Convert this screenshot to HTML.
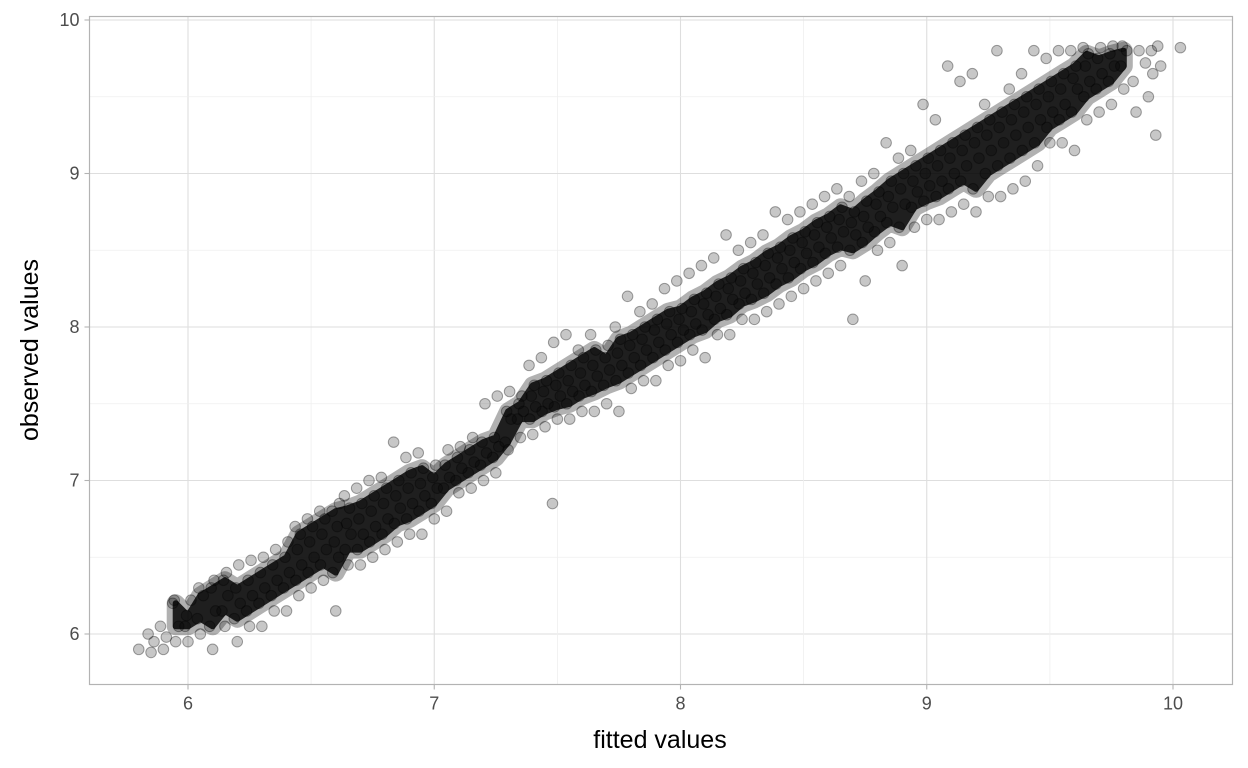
<!DOCTYPE html>
<html><head><meta charset="utf-8"><style>
body{margin:0;background:#fff;}
svg{display:block;font-family:"Liberation Sans",sans-serif;}
</style></head><body>
<svg id="chart" width="1248" height="768">
<g id="grid"></g>
<g id="pts"></g>
<rect x="89.5" y="16.5" width="1143" height="668" fill="none" stroke="#b3b3b3" stroke-width="1.2"/>
<g id="axes"></g>
<text x="660" y="748" text-anchor="middle" font-size="25" fill="#000">fitted values</text>
<text transform="translate(38,350) rotate(-90)" text-anchor="middle" font-size="25" fill="#000">observed values</text>
</svg>
<script>
const xTicks=[6,7,8,9,10];
const yTicks=[6,7,8,9,10];
const fitted=[5.80,5.85,5.90,5.95,6.00,6.05,6.10,6.15,6.20,6.25,6.30,6.35,6.40,6.45,6.50,6.55,6.60,6.65,6.70,6.75,6.80,6.85,6.90,6.95,7.00,7.05,7.10,7.15,7.20,7.25,7.30,7.35,7.40,7.45,7.48,7.50,7.55,7.60,7.65,7.70,7.75,7.80,7.85,7.90,7.95,8.00,8.05,8.10,8.15,8.20,8.25,8.30,8.35,8.40,8.45,8.50,8.55,8.60,8.65,8.70,8.75,8.80,8.85,8.90,8.95,9.00,9.05,9.10,9.15,9.20,9.25,9.30,9.35,9.40,9.45,9.50,9.55,9.60,9.65,9.70,9.75,9.80,9.85,9.90,9.93,9.95,10.03];
const observed=[
[5.90],[5.88,6.00,5.95],[5.90,6.05,5.98],[5.95,6.20,6.05,6.22],[5.95,6.05,6.22,6.12],
[6.00,6.10,6.25,6.30],[5.90,6.05,6.15,6.30,6.35],[6.05,6.15,6.25,6.35,6.40],[5.95,6.10,6.20,6.30,6.45],[6.05,6.15,6.25,6.35,6.48],
[6.05,6.20,6.30,6.40,6.50],[6.15,6.25,6.35,6.45,6.55],[6.15,6.30,6.40,6.50,6.60],[6.25,6.35,6.45,6.55,6.65,6.70],[6.30,6.40,6.50,6.60,6.70,6.75],
[6.35,6.45,6.55,6.65,6.75,6.80],[6.15,6.40,6.50,6.60,6.70,6.80,6.85],[6.45,6.55,6.65,6.72,6.82,6.90],[6.45,6.55,6.65,6.75,6.85,6.95],[6.50,6.60,6.70,6.80,6.90,7.00],
[6.55,6.65,6.75,6.85,6.95,7.02],[6.60,6.72,6.82,6.90,7.00,7.25],[6.65,6.75,6.85,6.95,7.05,7.15],[6.65,6.80,6.90,6.98,7.08,7.18],[6.75,6.85,6.95,7.02,7.10],
[6.80,6.95,7.02,7.10,7.20],[6.92,7.00,7.08,7.15,7.22],[6.95,7.05,7.12,7.20,7.28],[7.00,7.10,7.18,7.25,7.50],[7.05,7.15,7.22,7.28,7.55],
[7.20,7.25,7.40,7.45,7.58],[7.28,7.40,7.45,7.50,7.55],[7.30,7.40,7.48,7.55,7.62,7.75],[7.35,7.45,7.50,7.58,7.65,7.80],[6.85],
[7.40,7.48,7.55,7.62,7.70,7.90],[7.40,7.50,7.58,7.65,7.75,7.95],[7.45,7.55,7.62,7.70,7.80,7.85],[7.45,7.58,7.68,7.75,7.85,7.95],[7.50,7.62,7.72,7.80,7.88],
[7.45,7.65,7.75,7.83,7.92,8.00],[7.60,7.70,7.80,7.88,7.95,8.20],[7.65,7.75,7.85,7.92,8.00,8.10],[7.65,7.80,7.90,7.98,8.05,8.15],[7.75,7.85,7.95,8.02,8.10,8.25],
[7.78,7.90,7.98,8.05,8.12,8.30],[7.85,7.95,8.02,8.10,8.18,8.35],[7.80,7.98,8.08,8.15,8.22,8.40],[7.95,8.05,8.12,8.20,8.28,8.45],[7.95,8.08,8.18,8.25,8.32,8.60],
[8.05,8.15,8.22,8.30,8.38,8.50],[8.05,8.18,8.28,8.35,8.42,8.55],[8.10,8.22,8.32,8.40,8.48,8.60],[8.15,8.28,8.38,8.45,8.52,8.75],[8.20,8.32,8.42,8.50,8.58,8.70],
[8.25,8.38,8.48,8.55,8.62,8.75],[8.30,8.42,8.52,8.60,8.68,8.80],[8.35,8.48,8.58,8.65,8.72,8.85],[8.40,8.52,8.62,8.70,8.78,8.90],[8.05,8.50,8.60,8.68,8.75,8.85],
[8.30,8.55,8.65,8.72,8.82,8.95],[8.50,8.62,8.72,8.80,8.88,9.00],[8.55,8.68,8.78,8.85,8.95,9.20],[8.40,8.65,8.80,8.90,9.00,9.10],[8.65,8.78,8.88,8.95,9.05,9.15],
[8.70,8.82,8.92,9.00,9.10,9.45],[8.70,8.85,8.95,9.05,9.15,9.35],[8.75,8.90,9.00,9.10,9.20,9.70],[8.80,8.95,9.05,9.15,9.25,9.60],[8.75,8.90,9.10,9.20,9.30,9.65],
[8.85,9.00,9.15,9.25,9.35,9.45],[8.85,9.05,9.20,9.30,9.40,9.80],[8.90,9.10,9.25,9.35,9.45,9.55],[8.95,9.15,9.30,9.40,9.50,9.65],[9.05,9.20,9.35,9.45,9.55,9.80],
[9.20,9.30,9.40,9.50,9.60,9.75],[9.20,9.35,9.45,9.55,9.65,9.80],[9.15,9.40,9.55,9.62,9.70,9.80],[9.35,9.50,9.60,9.70,9.78,9.82],[9.40,9.55,9.65,9.75,9.82],
[9.45,9.60,9.70,9.78,9.83],[9.55,9.70,9.80,9.83],[9.40,9.60,9.80],[9.50,9.72,9.80],[9.25,9.65],[9.70,9.83],[9.82]
];
const NS="http://www.w3.org/2000/svg";
const xs=v=>188+(v-6)*246.25;
const ys=v=>634-(v-6)*153.5;
const L=89.5,R=1232.5,T=16.5,B=684.5;
function mk(tag,attrs,parent){const e=document.createElementNS(NS,tag);for(const k in attrs)e.setAttribute(k,attrs[k]);parent.appendChild(e);return e;}
const grid=document.getElementById('grid');
mk('rect',{x:L,y:T,width:R-L,height:B-T,fill:'#fff'},grid);
for(let v=5.5;v<=10.01;v+=0.5){
  const minor=Math.abs(v-Math.round(v))>0.1;
  const x=xs(v);
  if(x>L&&x<R){const ln=mk('line',{x1:x,x2:x,y1:T,y2:B,stroke:minor?'#efefef':'#dedede','stroke-width':minor?0.8:1.1},grid);
  
  }
  const y=ys(v);
  if(y>T&&y<B){const ln=mk('line',{x1:L,x2:R,y1:y,y2:y,stroke:minor?'#efefef':'#dedede','stroke-width':minor?0.8:1.1},grid);
  
  }
}
const axes=document.getElementById('axes');
xTicks.forEach(t=>{
  const tk=mk('line',{x1:xs(t),x2:xs(t),y1:B,y2:B+5,stroke:'#b3b3b3','stroke-width':1.1},axes);
  
  
  const tx=mk('text',{x:xs(t),y:B+25,'text-anchor':'middle','font-size':18,fill:'#4d4d4d'},axes);
  tx.textContent=t;
  
  
});
yTicks.forEach(t=>{
  const tk=mk('line',{x1:L-5,x2:L,y1:ys(t),y2:ys(t),stroke:'#b3b3b3','stroke-width':1.1},axes);
  
  
  const tx=mk('text',{x:L-10,y:ys(t)+6,'text-anchor':'end','font-size':18,fill:'#4d4d4d'},axes);
  tx.textContent=t;
  
  
});
const pts=document.getElementById('pts');
// dense core band derived from the inner points of each fitted group
const lo=[],hi=[];
fitted.forEach((f,i)=>{
  const s=observed[i].slice().sort((a,b)=>a-b);
  if(s.length>=4){lo.push([xs(f),ys(s[1])]);hi.push([xs(f),ys(s[s.length-2])]);}
});
const ring=lo.concat(hi.slice().reverse());
const dPath='M'+ring.map(p=>p[0].toFixed(1)+','+p[1].toFixed(1)).join('L')+'Z';
const halo=mk('g',{opacity:0.3},pts);


mk('path',{d:dPath,fill:'#000',stroke:'#000','stroke-width':18,'stroke-linejoin':'round'},halo);
const coreG=mk('g',{opacity:0.82},pts);


mk('path',{d:dPath,fill:'#000',stroke:'#000','stroke-width':6,'stroke-linejoin':'round'},coreG);
const offs=[0,-0.012,0.012,-0.006,0.006,-0.015,0.015];
function dot(fx,oy){
  const c=mk('circle',{cx:xs(fx),cy:ys(oy),r:5.3,fill:'rgba(0,0,0,0.22)',stroke:'rgba(0,0,0,0.35)','stroke-width':1},pts);
  
  
}
fitted.forEach((f,i)=>{
  observed[i].forEach((o,j)=>{
    dot(f+offs[j%offs.length],o);
  });
});
</script>
</body></html>
